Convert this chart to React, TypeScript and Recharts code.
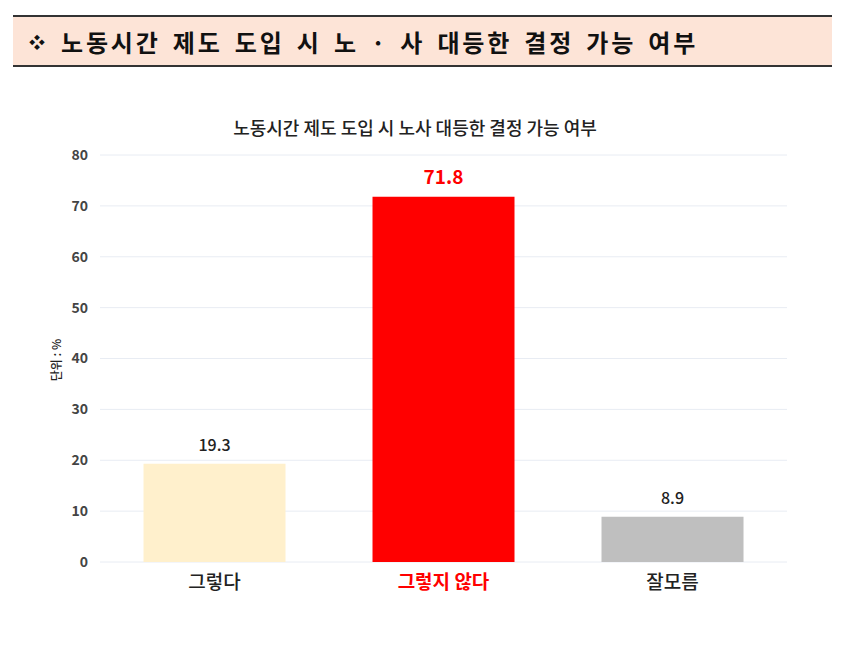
import React from 'react';
import { BarChart, Bar, XAxis, YAxis, CartesianGrid, Cell, LabelList } from 'recharts';

const categories = ['그렇다', '그렇지 않다', '잘모름'];
const values = [19.3, 71.8, 8.9];
const barColors = ['#fff0cc', '#ff0000', '#bfbfbf'];
const yTicks = [0, 10, 20, 30, 40, 50, 60, 70, 80];

const headerTitle = '노동시간 제도 도입 시 노 · 사 대등한 결정 가능 여부';
const chartTitle = '노동시간 제도 도입 시 노사 대등한 결정 가능 여부';
const unitLabel = '단위 : %';

const data = categories.map((name, i) => ({ name, value: values[i], color: barColors[i] }));

const FONT = '"Noto Sans CJK KR", "Noto Sans", sans-serif';

const XTick = ({ x, y, payload }: any) => {
  const hot = payload.index === 1;
  return (
    <text
      x={x}
      y={y + 19}
      textAnchor="middle"
      fontFamily={FONT}
      fontSize={19}
      fontWeight={hot ? 700 : 500}
      fill={hot ? '#ff0000' : '#222'}
    >
      {payload.value}
    </text>
  );
};

const ValueLabel = ({ x, y, width, value, index }: any) => {
  const hot = index === 1;
  return (
    <text
      x={x + width / 2}
      y={y - 13}
      textAnchor="middle"
      fontFamily={FONT}
      fontSize={hot ? 19 : 16}
      fontWeight={hot ? 700 : 500}
      fill={hot ? '#ff0000' : '#222'}
    >
      {value}
    </text>
  );
};

const UnitLabel = ({ viewBox }: any) => {
  const cx = viewBox.x + 18;
  const cy = 360;
  return (
    <text
      x={cx}
      y={cy}
      transform={`rotate(-90 ${cx} ${cy})`}
      textAnchor="middle"
      dominantBaseline="middle"
      fontFamily={FONT}
      fontSize={12}
      fontWeight={500}
      fill="#222"
    >
      {unitLabel}
    </text>
  );
};

export default function App() {
  return (
    <div style={{ position: 'absolute', left: 0, top: 0, width: 849, height: 653, background: '#fff' }}>
      <div
        style={{
          position: 'absolute',
          left: 13,
          top: 15,
          width: 803,
          height: 48,
          background: '#fde4d7',
          borderTop: '2px solid #333',
          borderBottom: '2px solid #333',
          display: 'flex',
          alignItems: 'center',
          paddingLeft: 16,
          boxSizing: 'content-box',
          fontFamily: FONT,
          fontSize: 24,
          fontWeight: 700,
          color: '#111',
          letterSpacing: 2.8,
          wordSpacing: 4,
          whiteSpace: 'nowrap',
        }}
      >
        <span style={{ fontSize: 16, marginRight: 16, letterSpacing: 0 }}>❖</span>
        {headerTitle}
      </div>
      <div
        style={{
          position: 'absolute',
          left: 0,
          top: 114,
          width: 830,
          textAlign: 'center',
          fontFamily: FONT,
          fontSize: 18,
          fontWeight: 500,
          color: '#222',
        }}
      >
        {chartTitle}
      </div>
      <div style={{ position: 'absolute', left: 0, top: 0 }}>
        <BarChart
          width={849}
          height={653}
          data={data}
          margin={{ top: 155, right: 62, bottom: 61, left: 40 }}
          barCategoryGap="19%"
        >
          <CartesianGrid vertical={false} stroke="#e8ecf3" />
          <XAxis
            dataKey="name"
            axisLine={false}
            tickLine={false}
            tick={<XTick />}
            interval={0}
          />
          <YAxis
            width={60}
            domain={[0, 80]}
            ticks={yTicks}
            axisLine={false}
            tickLine={false}
            tickMargin={6}
            tick={{ fontFamily: FONT, fontSize: 14, fontWeight: 700, fill: '#444' }}
            label={<UnitLabel />}
          />
          <Bar dataKey="value" isAnimationActive={false}>
            {data.map((d, i) => (
              <Cell key={`cell-${i}`} fill={d.color} />
            ))}
            <LabelList dataKey="value" content={<ValueLabel />} />
          </Bar>
        </BarChart>
      </div>
    </div>
  );
}
